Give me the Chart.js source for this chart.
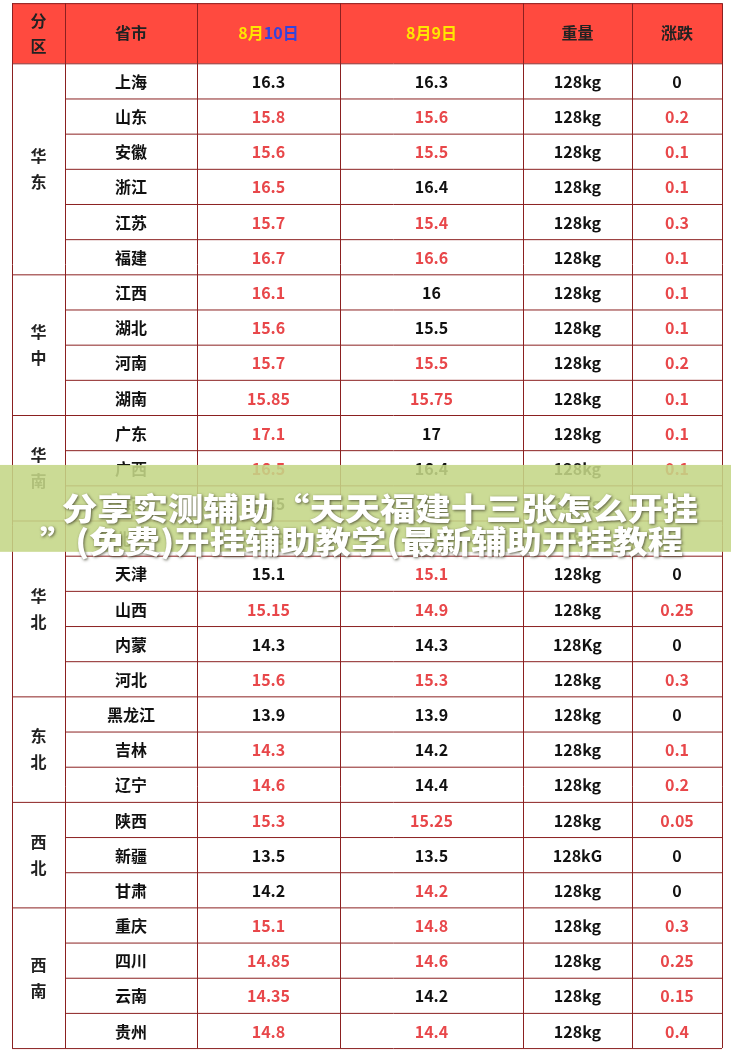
<!DOCTYPE html>
<html><head><meta charset="utf-8">
<script src="https://cdn.jsdelivr.net/npm/chart.js@4"></script>
<style>html,body{margin:0;padding:0;background:#fff}#c{display:block}</style>
</head><body><canvas id="c" width="731" height="1053"></canvas>
<script>
const headers=["分区","省市","8月10日","8月9日","重量","涨跌"];
const regions=[["华东",6],["华中",4],["华南",3],["华北",5],["东北",3],["西北",3],["西南",4]];
const provinces=["上海","山东","安徽","浙江","江苏","福建","江西","湖北","河南","湖南","广东","广西","海南","北京","天津","山西","内蒙","河北","黑龙江","吉林","辽宁","陕西","新疆","甘肃","重庆","四川","云南","贵州"];
const aug10=["16.3","15.8","15.6","16.5","15.7","16.7","16.1","15.6","15.7","15.85","17.1","16.5","19.5","14.8","15.1","15.15","14.3","15.6","13.9","14.3","14.6","15.3","13.5","14.2","15.1","14.85","14.35","14.8"];
const aug9=["16.3","15.6","15.5","16.4","15.4","16.6","16","15.5","15.5","15.75","17","16.4","19.5","14.8","15.1","14.9","14.3","15.3","13.9","14.2","14.4","15.25","13.5","14.2","14.8","14.6","14.2","14.4"];
const weight=["128kg","128kg","128kg","128kg","128kg","128kg","128kg","128kg","128kg","128kg","128kg","128kg","128kg","128kg","128kg","128kg","128Kg","128kg","128kg","128kg","128kg","128kg","128kG","128kg","128kg","128kg","128kg","128kg"];
const change=["0","0.2","0.1","0.1","0.3","0.1","0.1","0.1","0.2","0.1","0.1","0.1","0","0","0","0.25","0","0.3","0","0.1","0.2","0.05","0","0","0.3","0.25","0.15","0.4"];
const red10=[0,1,1,1,1,1,1,1,1,1,1,1,0,0,0,1,0,1,0,1,1,1,0,0,1,1,1,1];
const red9=[0,1,1,0,1,1,0,0,1,1,0,0,0,0,1,1,0,1,0,0,0,1,0,1,1,1,0,1];
const bannerLines=["分享实测辅助“天天福建十三张怎么开挂","”(免费)开挂辅助教学(最新辅助开挂教程"];

const colEdges=[12,65,197,340,523,632,722];
const HEAD=-1.71;
const RED="#e8474a", BLK="#111", LINE="#8b2020";
const FONT='"Noto Sans CJK SC", sans-serif';

const tablePlugin={id:'table',afterDraw(chart){
  const ctx=chart.ctx,xs=chart.scales.x,ys=chart.scales.y;
  const X=v=>xs.getPixelForValue(v),Y=v=>ys.getPixelForValue(v);
  const n=provinces.length;
  ctx.save();
  ctx.fillStyle="#ff4a3f";
  ctx.fillRect(X(colEdges[0]),Y(HEAD),X(colEdges[6])-X(colEdges[0]),Y(0)-Y(HEAD));
  ctx.textAlign="center";ctx.textBaseline="middle";
  const hy=(Y(HEAD)+Y(0))/2;
  headers.forEach((h,i)=>{
    const cx=(X(colEdges[i])+X(colEdges[i+1]))/2;
    ctx.font="bold 16px "+FONT;
    if(i===0){ctx.fillStyle="#222";ctx.fillText("分",cx,hy-12);ctx.fillText("区",cx,hy+13);}
    else if(i===2){
      const a="8月",b="10日";const wa=ctx.measureText(a).width,wb=ctx.measureText(b).width;
      const s=cx-(wa+wb)/2;ctx.textAlign="left";
      ctx.fillStyle="#ffe600";ctx.fillText(a,s,hy);ctx.fillStyle="#3344dd";ctx.fillText(b,s+wa,hy);
      ctx.textAlign="center";
    } else if(i===3){ctx.fillStyle="#ffe600";ctx.fillText(h,cx,hy);}
    else {ctx.fillStyle="#222";ctx.fillText(h,cx,hy);}
  });
  ctx.font="bold 16px "+FONT;
  for(let r=0;r<n;r++){
    const cy=(Y(r)+Y(r+1))/2;
    const cells=[[provinces[r],BLK],[aug10[r],red10[r]?RED:BLK],[aug9[r],red9[r]?RED:BLK],[weight[r],BLK],[change[r],change[r]!=="0"?RED:BLK]];
    cells.forEach((c,i)=>{ctx.fillStyle=c[1];ctx.fillText(c[0],(X(colEdges[i+1])+X(colEdges[i+2]))/2,cy+1);});
  }
  ctx.strokeStyle=LINE;ctx.lineWidth=1;
  ctx.beginPath();
  for(let r=0;r<=n;r++){ctx.moveTo(X(colEdges[1]),Y(r)+.5);ctx.lineTo(X(colEdges[6]),Y(r)+.5);}
  let acc=0;
  regions.forEach(([name,cnt])=>{
    const y0=Y(acc),y1=Y(acc+cnt);const cx=(X(colEdges[0])+X(colEdges[1]))/2,cy=(y0+y1)/2;
    ctx.moveTo(X(colEdges[0]),y0+.5);ctx.lineTo(X(colEdges[1]),y0+.5);
    ctx.fillStyle="#222";ctx.fillText(name[0],cx,cy-13);ctx.fillText(name[1],cx,cy+13);
    acc+=cnt;
  });
  ctx.moveTo(X(colEdges[0]),Y(n)+.5);ctx.lineTo(X(colEdges[1]),Y(n)+.5);
  ctx.moveTo(X(colEdges[0]),Y(HEAD)+.5);ctx.lineTo(X(colEdges[6]),Y(HEAD)+.5);
  colEdges.forEach(e=>{ctx.moveTo(X(e)+.5,Y(HEAD));ctx.lineTo(X(e)+.5,Y(n));});
  ctx.stroke();
  const by0=Y(11.42),by1=Y(13.89);
  ctx.fillStyle="rgba(196,214,134,0.88)";
  ctx.fillRect(0,by0,chart.width,by1-by0);
  ctx.font="900 31px "+FONT;ctx.textAlign="left";
  ctx.shadowColor="rgba(60,60,40,0.8)";ctx.shadowBlur=3;ctx.shadowOffsetX=1;ctx.shadowOffsetY=1;
  ctx.fillStyle="#fff";
  const sx=1.14;
  ctx.save();ctx.translate(62,Y(12.64));ctx.scale(sx,1);ctx.fillText(bannerLines[0],0,0);ctx.restore();
  ctx.save();ctx.translate(40,Y(13.58));ctx.scale(sx,1);ctx.fillText(bannerLines[1],0,0);ctx.restore();
  ctx.restore();
}};

new Chart(document.getElementById('c'),{
  type:'scatter',
  data:{datasets:[{data:provinces.map((p,i)=>({x:(colEdges[1]+colEdges[2])/2,y:i+0.5})),pointRadius:0}]},
  options:{responsive:false,animation:false,events:[],
    layout:{padding:0},
    plugins:{legend:{display:false},tooltip:{enabled:false}},
    scales:{x:{type:'linear',min:0,max:731,display:false},
            y:{type:'linear',min:HEAD-0.09,max:provinces.length+0.14,reverse:true,display:false}}},
  plugins:[tablePlugin]
});
</script></body></html>
